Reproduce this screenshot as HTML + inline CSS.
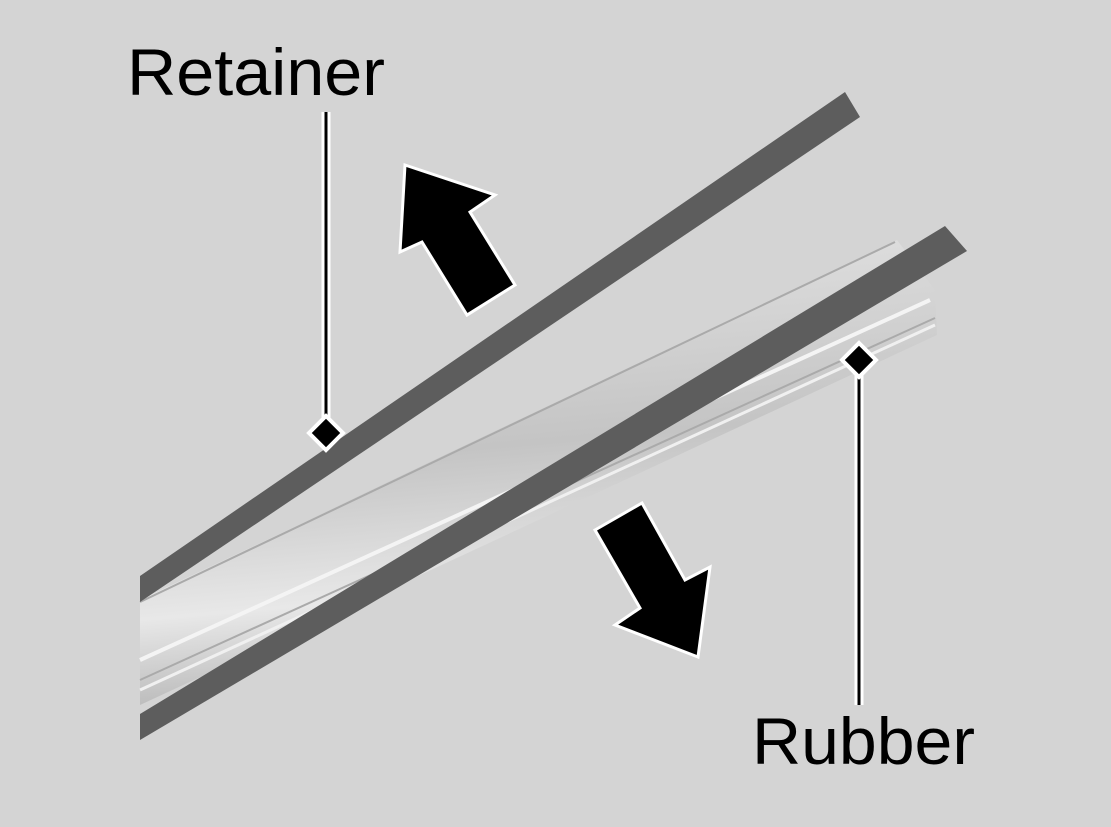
<!DOCTYPE html>
<html><head><style>html,body{margin:0;padding:0;background:#d4d4d4}svg{display:block}</style></head>
<body>
<svg width="1111" height="827" viewBox="0 0 1111 827" xmlns="http://www.w3.org/2000/svg">
<defs>
<linearGradient id="rg" x1="0" y1="0" x2="0.15" y2="1">
<stop offset="0" stop-color="#e6e6e6"/><stop offset="0.5" stop-color="#c4c4c4"/><stop offset="0.8" stop-color="#e8e8e8"/><stop offset="1" stop-color="#b8b8b8"/>
</linearGradient>
</defs>
<rect width="1111" height="827" fill="#d4d4d4"/>
<polygon points="140,600 897,240 935,290 937,335 140,705" fill="url(#rg)"/>
<line x1="140" y1="660" x2="930" y2="300" stroke="#f4f4f4" stroke-width="4"/>
<line x1="140" y1="680" x2="935" y2="318" stroke="#aaa" stroke-width="2"/>
<line x1="140" y1="690" x2="935" y2="325" stroke="#f0f0f0" stroke-width="3"/>
<line x1="140" y1="602" x2="895" y2="242" stroke="#aaa" stroke-width="2"/>
<polygon points="140,576 845,92 860,117 140,602" fill="#5d5d5d"/>
<polygon points="140,714 945,226 967,251 140,740" fill="#5d5d5d"/>
<polygon points="405,165 495,195 470,212 515,285 467,315 422,242 400,252" fill="#000" stroke="#fff" stroke-width="3"/>
<polygon points="698,657 615,625 640,608 595,530 642,503 685,580 710,567" fill="#000" stroke="#fff" stroke-width="3"/>
<line x1="326" y1="112" x2="326" y2="425" stroke="#fff" stroke-width="9"/>
<line x1="326" y1="112" x2="326" y2="425" stroke="#000" stroke-width="3"/>
<polygon points="326,416 343,433 326,450 309,433" fill="#000" stroke="#fff" stroke-width="4"/>
<line x1="859" y1="368" x2="859" y2="705" stroke="#fff" stroke-width="9"/>
<line x1="859" y1="368" x2="859" y2="705" stroke="#000" stroke-width="3"/>
<polygon points="859,343 876,360 859,377 842,360" fill="#000" stroke="#fff" stroke-width="4"/>
<text x="127" y="95" font-family="Liberation Sans, sans-serif" font-size="66" fill="#000" textLength="258" lengthAdjust="spacingAndGlyphs">Retainer</text>
<text x="752" y="764" font-family="Liberation Sans, sans-serif" font-size="66" fill="#000" textLength="223" lengthAdjust="spacingAndGlyphs">Rubber</text>
</svg>
</body></html>
